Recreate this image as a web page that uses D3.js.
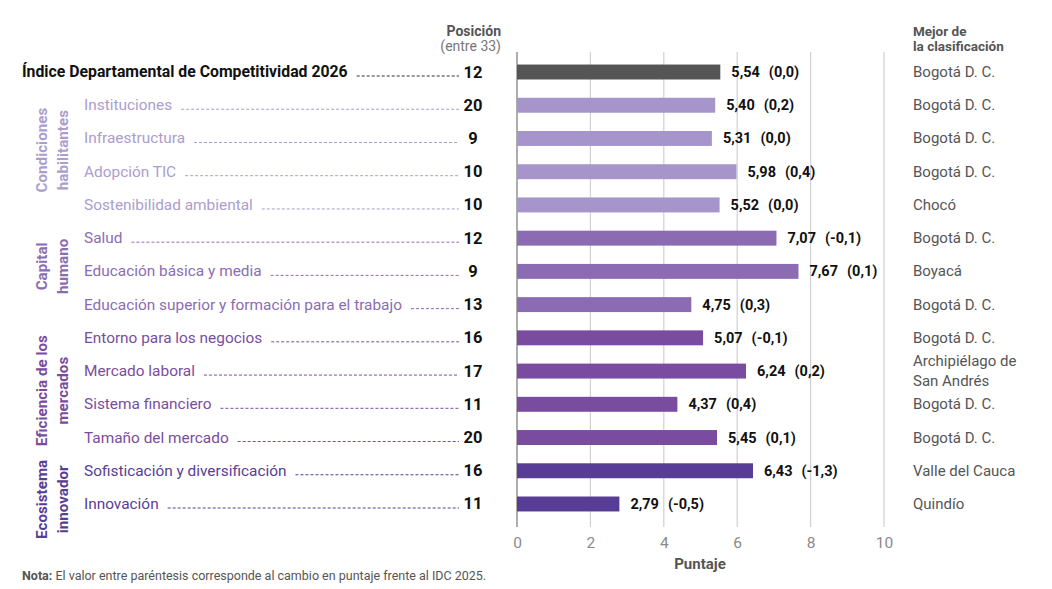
<!DOCTYPE html>
<html>
<head>
<meta charset="utf-8">
<script src="https://cdn.jsdelivr.net/npm/d3@7"></script>
<style>
  body { margin: 0; background: #fff; }
  svg { font-family: Roboto, "DejaVu Sans", sans-serif; }
</style>
</head>
<body>
<div id="chart"></div>
<script>
// data
var labels = ["Índice Departamental de Competitividad 2026", "Instituciones", "Infraestructura",
  "Adopción TIC", "Sostenibilidad ambiental", "Salud", "Educación básica y media",
  "Educación superior y formación para el trabajo", "Entorno para los negocios",
  "Mercado laboral", "Sistema financiero", "Tamaño del mercado",
  "Sofisticación y diversificación", "Innovación"];
var positions = [12, 20, 9, 10, 10, 12, 9, 13, 16, 17, 11, 20, 16, 11];
var scores = [5.54, 5.40, 5.31, 5.98, 5.52, 7.07, 7.67, 4.75, 5.07, 6.24, 4.37, 5.45, 6.43, 2.79];
var changes = [0.0, 0.2, 0.0, 0.4, 0.0, -0.1, 0.1, 0.3, -0.1, 0.2, 0.4, 0.1, -1.3, -0.5];
var best = ["Bogotá D. C.", "Bogotá D. C.", "Bogotá D. C.", "Bogotá D. C.", "Chocó",
  "Bogotá D. C.", "Boyacá", "Bogotá D. C.", "Bogotá D. C.", "Archipiélago de|San Andrés",
  "Bogotá D. C.", "Bogotá D. C.", "Valle del Cauca", "Quindío"];
var rowGroup = [0, 1, 1, 1, 1, 2, 2, 2, 3, 3, 3, 3, 4, 4];
var groupNames = [null, ["Condiciones", "habilitantes"], ["Capital", "humano"],
  ["Eficiencia de los", "mercados"], ["Ecosistema", "innovador"]];
var xTicks = [0, 2, 4, 6, 8, 10];

var barColors = ["#555555", "#a695cb", "#8b6cb3", "#7a4ca0", "#573d95"];
var textColors = ["#111111", "#ab9dcd", "#8b6cb3", "#7a4ca0", "#573d95"];
var groupShift = [0, -5, -5, 3, 12];

var width = 1052, height = 589;
var svg = d3.select("#chart").append("svg")
  .attr("width", width).attr("height", height);

var x = d3.scaleLinear().domain([0, 10]).range([517, 884]);
var y = d3.scaleBand().domain(d3.range(labels.length))
  .range([55.4, 520.6]).paddingInner(0.55).paddingOuter(0.275);

var loc = d3.formatLocale({decimal: ",", thousands: ".", grouping: [3], currency: ["$", ""], minus: "-"});
var f2 = loc.format(".2f"), f1 = loc.format(".1f");

// grid
svg.append("g").selectAll("line").data(xTicks).enter().append("line")
  .attr("x1", d => x(d)).attr("x2", d => x(d))
  .attr("y1", 52).attr("y2", 527)
  .attr("stroke", d => d === 0 ? "#9a9a9a" : "#d0d0d0")
  .attr("stroke-width", d => d === 0 ? 1.6 : 1.2);

// axis tick labels
var axis = svg.append("g").attr("transform", "translate(0,527)")
  .call(d3.axisBottom(x).tickValues(xTicks).tickSize(0).tickPadding(10));
axis.select(".domain").remove();
axis.selectAll("text").attr("font-size", 15.5).attr("fill", "#8a8a8a")
  .attr("font-family", "Roboto, sans-serif");
svg.append("text").attr("x", 700).attr("y", 569).attr("text-anchor", "middle")
  .attr("font-size", 15).attr("font-weight", 700).attr("fill", "#555").text("Puntaje");

// bars
var rows = svg.append("g").selectAll("g").data(labels).enter().append("g");
rows.append("rect")
  .attr("x", x(0)).attr("y", (d, i) => y(i))
  .attr("width", (d, i) => x(scores[i]) - x(0)).attr("height", y.bandwidth())
  .attr("fill", (d, i) => barColors[rowGroup[i]]);

var vl = rows.append("text")
  .attr("x", (d, i) => x(scores[i]) + 11).attr("y", (d, i) => y(i) + y.bandwidth() / 2 + 5)
  .attr("font-size", 14.5).attr("font-weight", 700).attr("fill", "#111");
vl.append("tspan").text((d, i) => f2(scores[i]));
vl.append("tspan").attr("dx", 9).text((d, i) => "(" + f1(changes[i]) + ")");

// row labels
var lab = rows.append("text")
  .attr("x", (d, i) => i === 0 ? 22 : 84).attr("y", (d, i) => y(i) + y.bandwidth() / 2 + 5)
  .attr("font-size", (d, i) => i === 0 ? 15.8 : 15.4)
  .attr("font-weight", (d, i) => i === 0 ? 700 : 400)
  .attr("fill", (d, i) => textColors[rowGroup[i]])
  .text(d => d);

// dotted leaders
lab.each(function(d, i) {
  var w = this.getComputedTextLength();
  var x0 = (i === 0 ? 22 : 84) + w + 9;
  svg.append("line")
    .attr("x1", x0).attr("x2", 459)
    .attr("y1", y(i) + y.bandwidth() / 2 + 4).attr("y2", y(i) + y.bandwidth() / 2 + 4)
    .attr("stroke", i === 0 ? "#333" : textColors[rowGroup[i]])
    .attr("stroke-width", 1).attr("stroke-dasharray", "3,2");
});

// positions
rows.append("text")
  .attr("x", 473).attr("y", (d, i) => y(i) + y.bandwidth() / 2 + 5.5)
  .attr("text-anchor", "middle").attr("font-size", 16.5).attr("font-weight", 700)
  .attr("fill", "#111").text((d, i) => positions[i]);

// best of ranking
rows.each(function(d, i) {
  var parts = best[i].split("|");
  var cy = y(i) + y.bandwidth() / 2 + 5 - (parts.length - 1) * 10;
  var t = d3.select(this).append("text").attr("x", 913).attr("y", cy)
    .attr("font-size", 15).attr("fill", "#555");
  parts.forEach(function(p, k) {
    t.append("tspan").attr("x", 913).attr("dy", k === 0 ? 0 : 20).text(p);
  });
});

// group labels (rotated)
groupNames.forEach(function(g, gi) {
  if (!g) return;
  var idx = d3.range(labels.length).filter(i => rowGroup[i] === gi);
  var cy = d3.mean(idx, i => y(i) + y.bandwidth() / 2) + groupShift[gi];
  g.forEach(function(line, k) {
    svg.append("text")
      .attr("transform", "translate(" + (47 + k * 21) + "," + cy + ") rotate(-90)")
      .attr("text-anchor", "middle")
      .attr("font-size", 15.2).attr("font-weight", 700)
      .attr("fill", textColors[gi]).text(line);
  });
});

// headers
svg.append("text").attr("x", 501).attr("y", 36).attr("text-anchor", "end")
  .attr("font-size", 14).attr("font-weight", 700).attr("fill", "#555").text("Posición");
svg.append("text").attr("x", 501).attr("y", 51).attr("text-anchor", "end")
  .attr("font-size", 14).attr("fill", "#777").text("(entre 33)");
svg.append("text").attr("x", 913).attr("y", 36)
  .attr("font-size", 13.5).attr("font-weight", 700).attr("fill", "#555").text("Mejor de");
svg.append("text").attr("x", 913).attr("y", 51)
  .attr("font-size", 13.5).attr("font-weight", 700).attr("fill", "#555").text("la clasificación");

// note
var note = svg.append("text").attr("x", 22).attr("y", 580)
  .attr("font-size", 12.5).attr("fill", "#555");
note.append("tspan").attr("font-weight", 700).text("Nota:");
note.append("tspan").text(" El valor entre paréntesis corresponde al cambio en puntaje frente al IDC 2025.");
</script>
</body>
</html>
